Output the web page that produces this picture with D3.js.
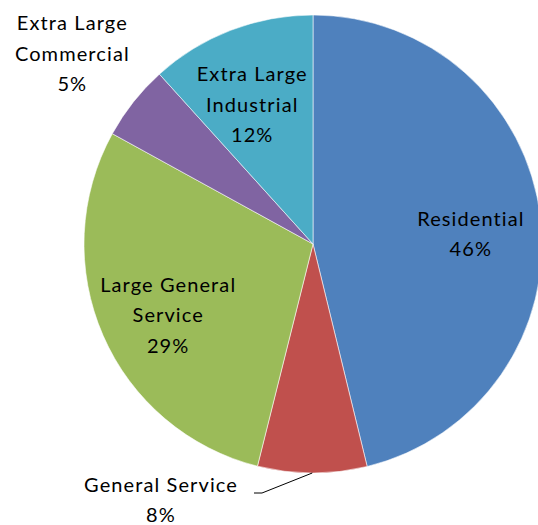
<!DOCTYPE html>
<html>
<head>
<meta charset="utf-8">
<script src="https://cdn.jsdelivr.net/npm/d3@7"></script>
<style>
body{margin:0;background:#fff;}
text{font-family:Lato,"Open Sans",sans-serif;font-size:20px;letter-spacing:1.1px;fill:#000;}
</style>
</head>
<body>
<svg id="pie"></svg>
<script>
// slice order clockwise from 12 o'clock
var categories=["Residential","General Service","Large General Service","Extra Large Commercial","Extra Large Industrial"];
var shares=[46.2,7.7,29.1,5.3,11.7];
var labelLines=[["Residential"],["General Service"],["Large General","Service"],["Extra Large","Commercial"],["Extra Large","Industrial"]];
var colors=["#4F81BD","#C0504D","#9BBB59","#8064A2","#4BACC6"];

var w=538;
var h=525;
var cx=313,cy=244,r=229;
var lineH=30.5;

var data=categories.map(function(c,i){
  return {name:c,value:shares[i],lines:labelLines[i],color:colors[i]};
});
var total=d3.sum(shares);

var svg=d3.select("#pie")
          .attr("width",w)
          .attr("height",h);
var g=svg.append("g")
         .attr("transform","translate("+cx+","+cy+")");

var pie=d3.pie()
          .sort(null)
          .value(function(d){return d.value;});
var arc=d3.arc()
          .innerRadius(0)
          .outerRadius(r);
var arcs=pie(data);

g.selectAll("path.slice")
 .data(arcs)
 .enter()
 .append("path")
 .classed("slice",true)
 .attr("d",arc)
 .attr("fill",function(d){return d.data.color;})
 .attr("stroke","#fff")
 .attr("stroke-width",0.8)
 .attr("stroke-opacity",0.7);

// label placement: inside ones on a ring, outside ones further out
var inner=d3.arc().innerRadius(r*0.69).outerRadius(r*0.69);
var outer=d3.arc().innerRadius(r*1.34).outerRadius(r*1.34);
var edge=d3.arc().innerRadius(r).outerRadius(r);

function pct(d){return Math.round(d.data.value/total*100)+"%";}

arcs.forEach(function(d,i){
  var lines=d.data.lines.concat([pct(d)]);
  var pos;
  var name=d.data.name;
  if(name=="General Service"){
    // dragged label below the pie with a leader line
    var e=edge.centroid(d);
    pos=[-152,256];
    g.append("polyline")
     .attr("points",[e,[-51,249],[-59,249]].map(function(p){return p.join(",");}).join(" "))
     .attr("fill","none")
     .attr("stroke","#000")
     .attr("stroke-width",1);
  }else if(name=="Extra Large Commercial"){
    pos=outer.centroid(d);
  }else{
    pos=inner.centroid(d);
    if(name=="Residential") pos=[pos[0]+1,pos[1]+9];
    else if(name=="Extra Large Industrial") pos=[pos[0]-4,pos[1]+8];
    else pos=[pos[0],pos[1]+8];
  }
  var n=lines.length;
  var top=pos[1]-(n-1)*lineH/2+7;
  var t=g.append("text")
         .attr("text-anchor","middle");
  lines.forEach(function(s,j){
    t.append("tspan")
     .attr("x",pos[0])
     .attr("y",top+j*lineH)
     .text(s);
  });
});
</script>
</body>
</html>
